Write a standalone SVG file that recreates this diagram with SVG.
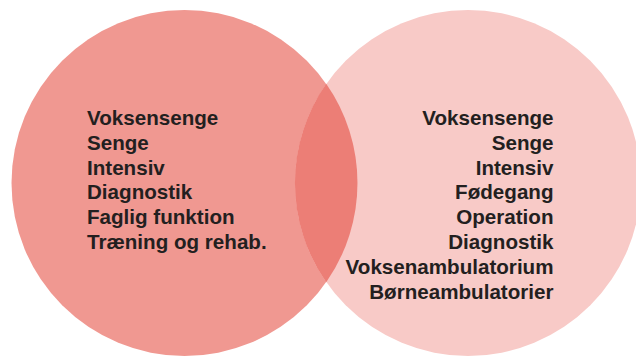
<svg xmlns="http://www.w3.org/2000/svg" width="636" height="359" viewBox="0 0 636 359">
  <style>
    .lbl { font-family: "Liberation Sans", Arial, sans-serif; font-weight: bold; font-size: 20.6px; fill: #231f20; }
    .end { text-anchor: end; }
  </style>
  <rect width="636" height="359" fill="#ffffff"/>
  <g id="set-left">
    <circle cx="184.5" cy="183" r="173" fill="#f09891"/>
  </g>
  <g id="set-right">
    <circle cx="468" cy="183" r="173" fill="#f8cac7"/>
  </g>
  <g id="overlap">
    <path d="M326.2 83.8 A173 173 0 0 1 326.2 282.2 A173 173 0 0 1 326.2 83.8 Z" fill="#ec7e76"/>
  </g>
  <g id="left-labels">
    <text class="lbl" x="87" y="125">Voksensenge</text>
    <text class="lbl" x="87" y="149.8">Senge</text>
    <text class="lbl" x="87" y="174.6">Intensiv</text>
    <text class="lbl" x="87" y="199.4">Diagnostik</text>
    <text class="lbl" x="87" y="224.2">Faglig funktion</text>
    <text class="lbl" x="87" y="249">Træning og rehab.</text>
  </g>
  <g id="right-labels">
    <text class="lbl end" x="553.5" y="125">Voksensenge</text>
    <text class="lbl end" x="553.5" y="149.8">Senge</text>
    <text class="lbl end" x="553.5" y="174.6">Intensiv</text>
    <text class="lbl end" x="553.5" y="199.4">Fødegang</text>
    <text class="lbl end" x="553.5" y="224.2">Operation</text>
    <text class="lbl end" x="553.5" y="249">Diagnostik</text>
    <text class="lbl end" x="553.5" y="273.8">Voksenambulatorium</text>
    <text class="lbl end" x="553.5" y="298.6">Børneambulatorier</text>
  </g>
</svg>
